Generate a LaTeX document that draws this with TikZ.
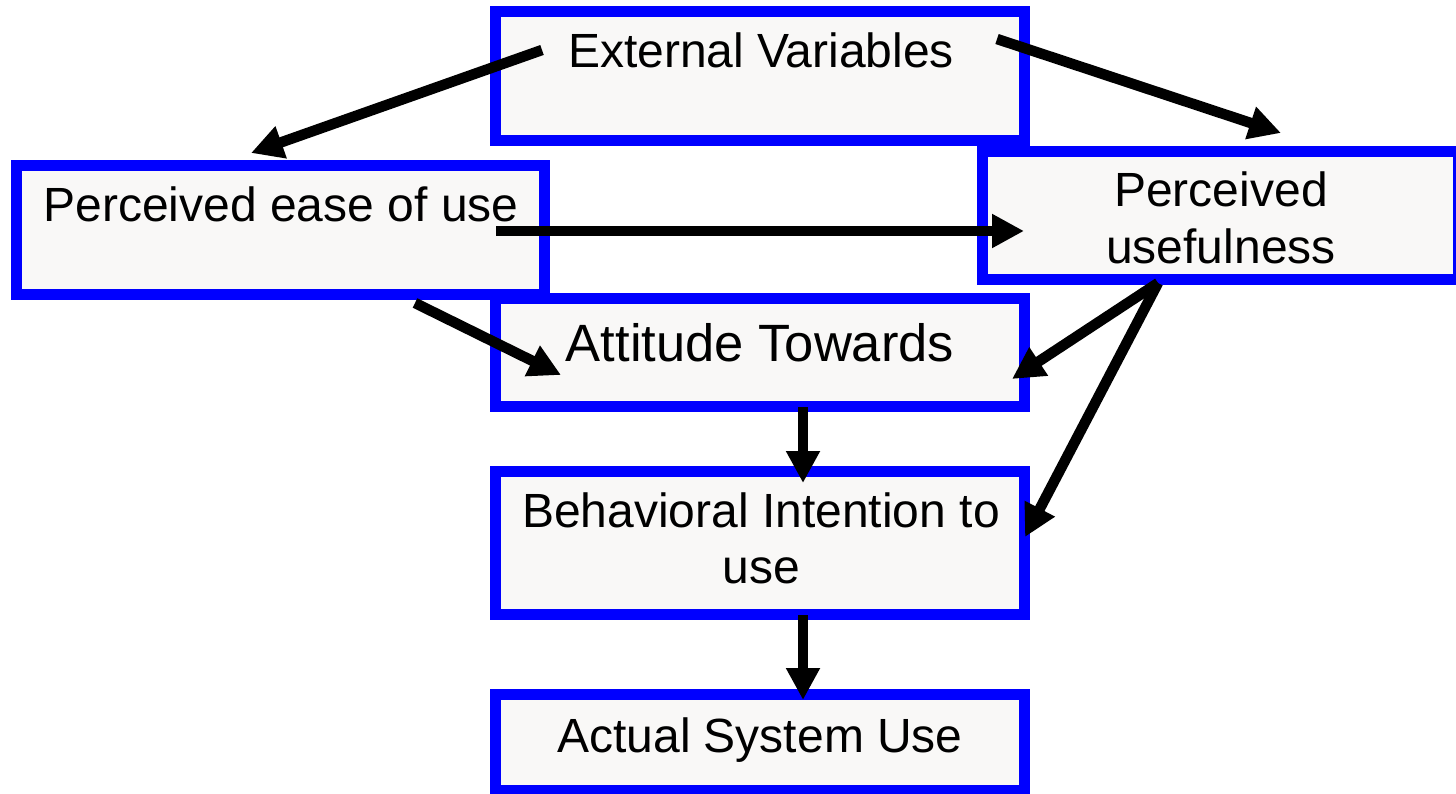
\documentclass[tikz,border=0pt]{standalone}
\usepackage{fontspec}
\setmainfont{Liberation Sans}
\usetikzlibrary{arrows.meta}
\definecolor{boxfill}{RGB}{249,248,247}
\definecolor{boxblue}{RGB}{0,0,255}
\begin{document}
\begin{tikzpicture}[x=1pt,y=-1pt,
  box/.style={draw=boxblue, fill=boxfill, line width=11pt, inner sep=0pt, outer sep=0pt, rectangle},
  lbl/.style={anchor=base, inner sep=0pt, font=\fontsize{48}{56}\selectfont},
  biglbl/.style={lbl, font=\fontsize{52.5}{60}\selectfont},
  arr/.style={line width=10.5pt, -{Triangle[length=32pt,width=32pt]}}]
\useasboundingbox (0,0) rectangle (1456,794);
% boxes
\node[box, minimum width=529pt, minimum height=108pt] (att) at (760,352.5) {};
\node[box, minimum width=528pt, minimum height=129pt] (peou) at (280.5,230) {};
\node[box, minimum width=529pt, minimum height=129pt] (ext) at (760,76) {};
\node[box, minimum width=476pt, minimum height=128pt] (pu) at (1220.5,215.5) {};
\node[box, minimum width=529pt, minimum height=143pt] (bi) at (760,543) {};
\node[box, minimum width=529pt, minimum height=96pt] (asu) at (760,742.5) {};
% texts
\node[lbl] (tExt) at (761,68) {External Variables};
\node[lbl] (tPeou) at (281,222) {Perceived ease of use};
\node[lbl] (tPu1) at (1221,207) {Perceived};
\node[lbl] (tPu2) at (1221,264) {usefulness};
\node[biglbl] (tAtt) at (760,361) {Attitude Towards};
\node[lbl] (tBi1) at (761,527) {Behavioral Intention to};
\node[lbl] (tBi2) at (761,583) {use};
\node[lbl] (tAsu) at (760,752) {Actual System Use};
% connector end points
\coordinate (a1s) at (542,50);   \coordinate (a1e) at (251,153);
\coordinate (a2s) at (997,39);   \coordinate (a2e) at (1281,133);
\coordinate (a3s) at (496,231);  \coordinate (a3e) at (1024,231);
\coordinate (a4s) at (415,303);  \coordinate (a4e) at (561,375);
\coordinate (a5s) at (1158,283); \coordinate (a5e) at (1012,379);
\coordinate (a6e) at (1025,537);
\coordinate (a7s) at (803,407);  \coordinate (a7e) at (803,483);
\coordinate (a8s) at (803,615);  \coordinate (a8e) at (803,700);
% connectors
\draw[arr] (a1s) -- (a1e);
\draw[arr] (a2s) -- (a2e);
\draw[arr] (a3s) -- (a3e);
\draw[arr] (a4s) -- (a4e);
\draw[arr] (a5s) -- (a5e);
\draw[arr] (a5s) -- (a6e);
\draw[arr] (a7s) -- (a7e);
\draw[arr] (a8s) -- (a8e);
\end{tikzpicture}
\end{document}
